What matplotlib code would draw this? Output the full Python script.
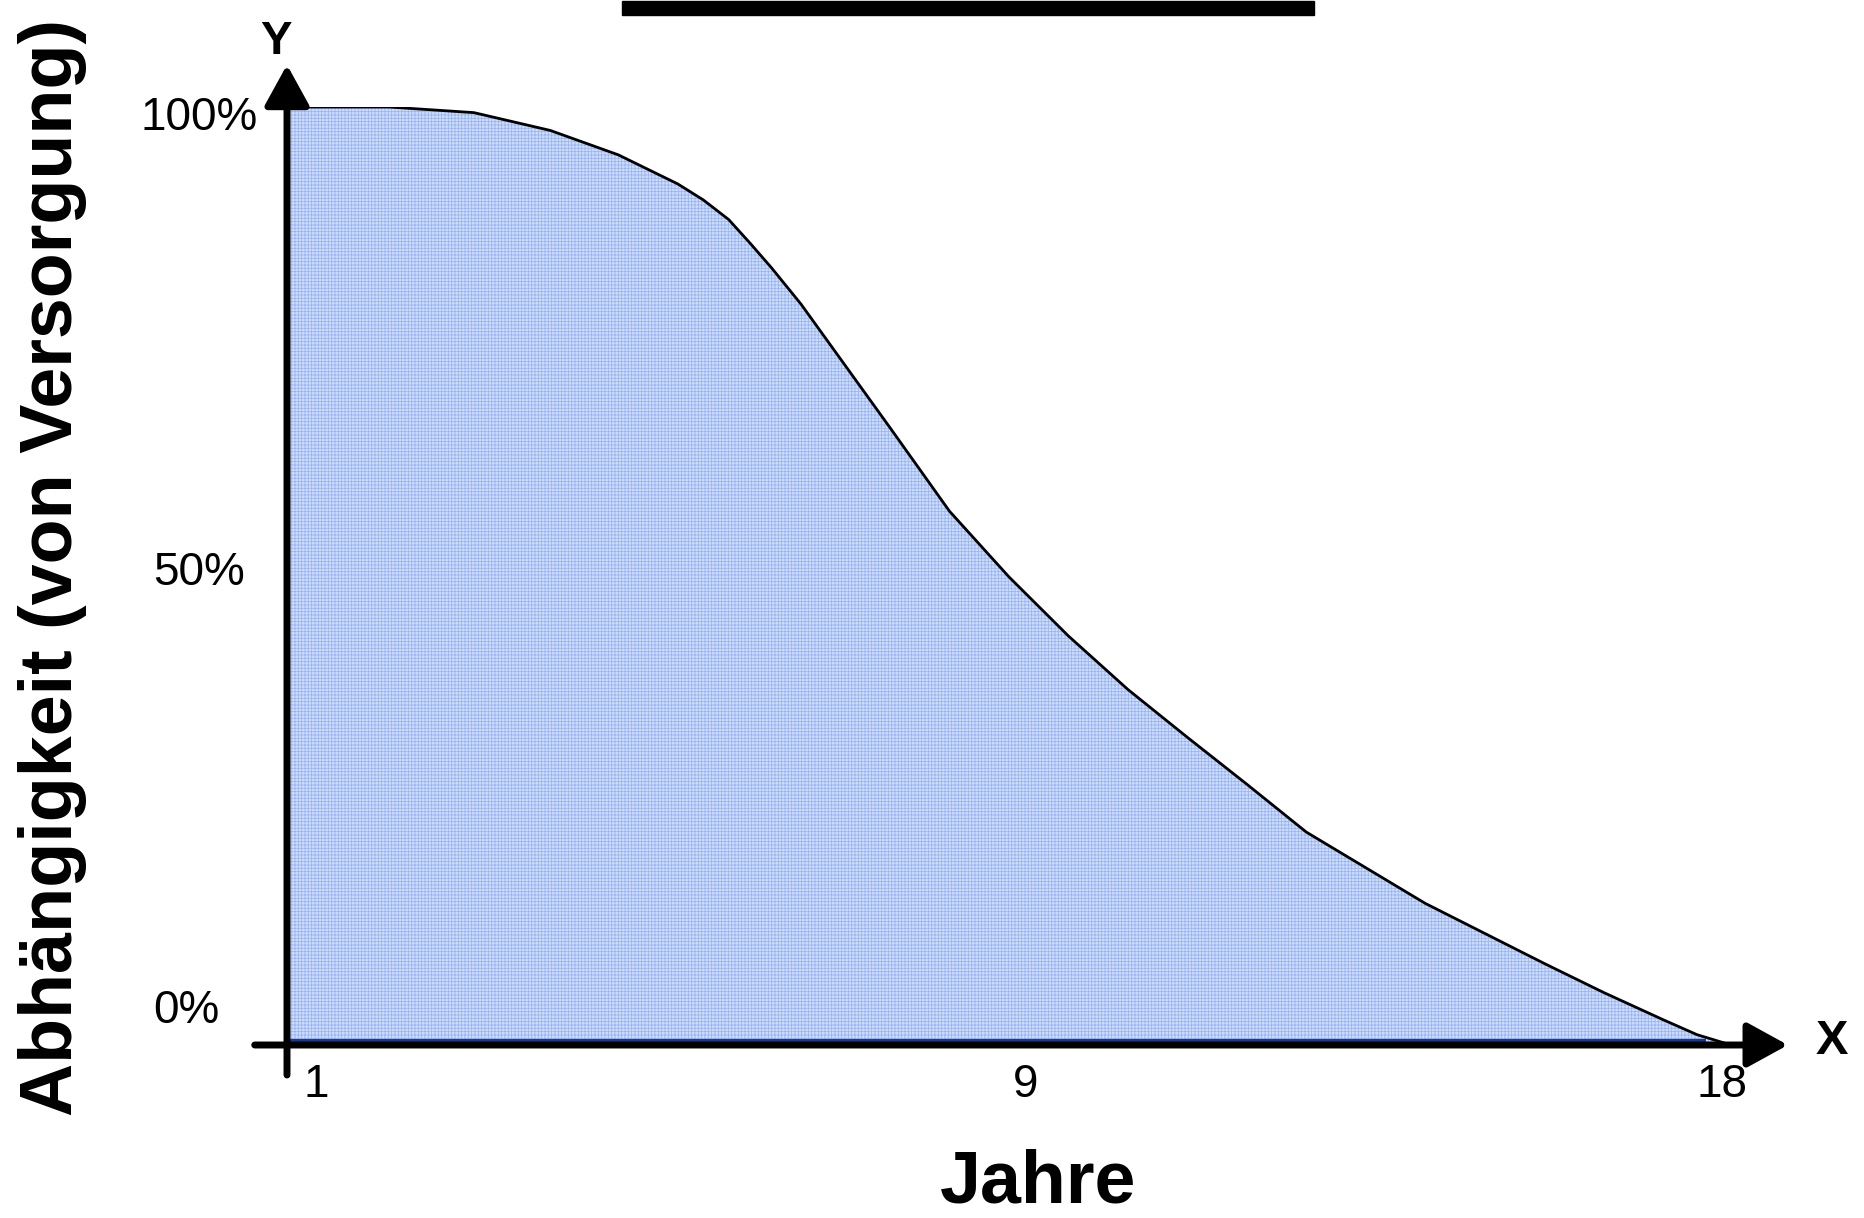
import matplotlib.pyplot as plt
from matplotlib.patches import Rectangle

# Daten
jahre = [1.0, 2.2, 3.2, 4.1, 4.9, 5.6, 5.9, 6.2, 6.45, 6.7, 7.05, 7.4, 7.75, 8.1,
         8.8, 9.5, 10.2, 10.9, 11.6, 12.3, 13.0, 13.7, 14.4, 15.1, 15.8, 16.5,
         17.2, 17.6, 18.0]
abhaengigkeit = [100, 100, 99.4, 97.5, 94.9, 91.8, 90.1, 88.0, 85.5, 82.9, 79.0,
                 74.6, 70.2, 65.8, 56.9, 49.9, 43.6, 37.9, 32.8, 27.8, 22.7, 18.9,
                 15.1, 11.9, 8.7, 5.6, 2.7, 1.1, 0.0]
x_ticks = [1.34, 9.70, 17.89]
x_labels = ['1', '9', '18']
y_ticks = [98.8, 50.3, 3.6]
y_labels = ['100%', '50%', '0%']

plt.rcParams.update({
    'font.family': ['Liberation Sans', 'DejaVu Sans'],
    'hatch.linewidth': 0.6,
})

fig = plt.figure(figsize=(18.65, 12.18), dpi=100)
ax = fig.add_axes([287 / 1865, 173 / 1218, 1444 / 1865, 938 / 1218])
ax.set_xlim(1, 18)
ax.set_ylim(0, 100)
ax.axis('off')

# Fläche + Kurve
ax.fill_between(jahre, abhaengigkeit, 0, facecolor='#d0defa', edgecolor='#98b4f3',
                hatch='+++++', linewidth=0)
ax.plot([1.0, 17.7], [0.4, 0.4], color='#1c3a8c', lw=3, solid_capstyle='butt')
ax.plot(jahre, abhaengigkeit, color='black', lw=2)

# Achsen mit Pfeilen
arrow = dict(arrowstyle='-|>,head_length=1.0,head_width=0.55', lw=5, color='black',
             shrinkA=0, shrinkB=0, mutation_scale=25)
ax.annotate('', xy=(1, 104.5), xytext=(1, -3.2), arrowprops=arrow, annotation_clip=False)
ax.annotate('', xy=(18.67, 0), xytext=(0.62, 0), arrowprops=arrow, annotation_clip=False)

ax.text(0.87, 106.9, 'Y', fontsize=34, fontweight='bold', ha='center', va='center')
ax.text(19.19, 0.4, 'X', fontsize=35, fontweight='bold', ha='center', va='center')

for x, lab in zip(x_ticks, x_labels):
    ax.text(x, -4.3, lab, fontsize=33, ha='center', va='center')
for y, lab in zip(y_ticks, y_labels):
    ax.text(-0.03 if lab != '0%' else -0.18, y, lab, fontsize=33, ha='center', va='center')

ax.text(9.84, -14.7, 'Jahre', fontsize=53, fontweight='bold', ha='center', va='center')
fig.text(53 / 1865, 1 - 568 / 1218, 'Abhängigkeit (von Versorgung)', fontsize=53,
         fontweight='bold', rotation=90, ha='center', va='center')

# Balken oben (abgeschnittener Titel)
fig.patches.append(Rectangle((622 / 1865, 1 - 15 / 1218), 692 / 1865, 14 / 1218,
                             transform=fig.transFigure, color='black'))

fig.savefig('out.png', dpi=100)
